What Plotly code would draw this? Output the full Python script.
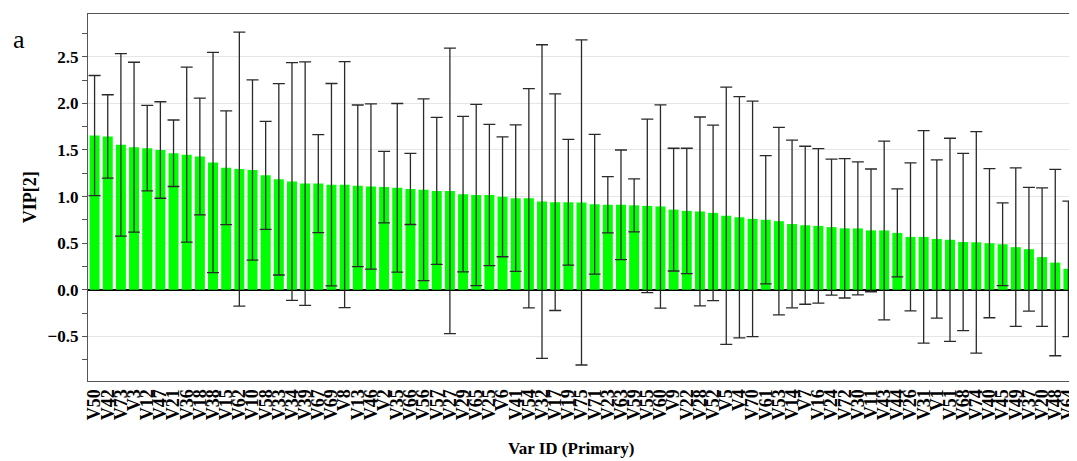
import plotly.graph_objects as go

labels = ["V50", "V42", "V73", "V3", "V12", "V47", "V21", "V36", "V18", "V38",
          "V15", "V62", "V10", "V58", "V33", "V34", "V39", "V67", "V69", "V8",
          "V13", "V46", "V2", "V35", "V66", "V56", "V57", "V27", "V29", "V65",
          "V25", "V6", "V41", "V54", "V32", "V17", "V19", "V75", "V71", "V23",
          "V63", "V59", "V55", "V60", "V9", "V22", "V28", "V52", "V5", "V4",
          "V70", "V61", "V53", "V14", "V7", "V16", "V24", "V72", "V30", "V11",
          "V43", "V44", "V26", "V31", "V1", "V51", "V68", "V74", "V40", "V45",
          "V49", "V37", "V20", "V48", "V64"]

vip = [1.655, 1.645, 1.555, 1.530, 1.520, 1.500, 1.465, 1.450, 1.430, 1.365,
       1.310, 1.295, 1.285, 1.228, 1.185, 1.162, 1.139, 1.139, 1.128, 1.128,
       1.115, 1.108, 1.102, 1.094, 1.082, 1.073, 1.061, 1.061, 1.026, 1.017,
       1.017, 0.997, 0.983, 0.982, 0.946, 0.940, 0.938, 0.937, 0.918, 0.913,
       0.912, 0.906, 0.900, 0.894, 0.860, 0.846, 0.840, 0.825, 0.794, 0.778,
       0.760, 0.751, 0.736, 0.705, 0.692, 0.685, 0.672, 0.659, 0.658, 0.637,
       0.636, 0.610, 0.567, 0.567, 0.545, 0.536, 0.512, 0.509, 0.499, 0.488,
       0.457, 0.435, 0.350, 0.291, 0.224]

err = [0.645, 0.448, 0.980, 0.912, 0.459, 0.518, 0.357, 0.939, 0.627, 1.182,
       0.611, 1.471, 0.967, 0.580, 1.027, 1.277, 1.308, 0.527, 1.086, 1.321,
       0.868, 0.888, 0.384, 0.905, 0.382, 0.975, 0.789, 1.532, 0.834, 0.973,
       0.759, 0.643, 0.786, 1.177, 1.684, 1.163, 0.675, 1.745, 0.750, 0.302,
       0.588, 0.284, 0.932, 1.091, 0.659, 0.673, 1.014, 0.943, 1.380, 1.295,
       1.264, 0.688, 1.007, 0.900, 0.848, 0.830, 0.730, 0.748, 0.714, 0.659,
       0.960, 0.473, 0.795, 1.141, 0.850, 1.090, 0.952, 1.189, 0.800, 0.445,
       0.850, 0.664, 0.743, 1.000, 0.727]

SERIF = "Liberation Serif, Times New Roman, serif"

fig = go.Figure()
fig.add_trace(go.Bar(
    x=labels, y=vip,
    marker=dict(color="#00ff00", line=dict(width=0)),
    error_y=dict(type="data", array=err, visible=True,
                 color="#2a2a2a", thickness=1.3, width=6),
    showlegend=False,
))

# page body has an 8px default margin: size the figure to fit the window
fig.update_layout(
    width=1069, height=453,
    margin=dict(l=80, r=2, t=6, b=80),
    paper_bgcolor="white", plot_bgcolor="white",
    bargap=0.24,
    xaxis=dict(
        type="category",
        tickmode="array", tickvals=labels, ticktext=labels,
        tickangle=-90,
        tickfont=dict(family=SERIF, size=18, color="black", weight="bold"),
        showline=True, linecolor="#555555", linewidth=1.2, mirror=True,
        ticks="", showgrid=False, automargin=False,
    ),
    yaxis=dict(
        range=[-0.98, 2.96],
        tick0=0, dtick=0.5, tickformat=".1f",
        ticks="outside", ticklen=5, tickcolor="#555555",
        minor=dict(dtick=0.25, ticks="outside", ticklen=5, tickcolor="#555555", showgrid=False),
        tickfont=dict(family=SERIF, size=17, color="black", weight="bold"),
        showgrid=True, gridcolor="#e6e6e6", gridwidth=1,
        zeroline=True, zerolinecolor="black", zerolinewidth=1.5,
        showline=True, linecolor="#555555", linewidth=1.2, mirror=True,
        automargin=False,
    ),
    annotations=[
        dict(text="a", xref="paper", yref="paper", x=-0.078, y=0.93,
             xanchor="left", yanchor="middle", showarrow=False,
             font=dict(family=SERIF, size=26, color="black")),
        dict(text="VIP[2]", xref="paper", yref="paper", x=-0.059, y=0.5,
             xanchor="center", yanchor="middle", showarrow=False, textangle=-90,
             font=dict(family=SERIF, size=18, color="black", weight="bold")),
        dict(text="Var ID (Primary)", xref="paper", yref="paper", x=0.49, y=-0.185,
             xanchor="center", yanchor="middle", showarrow=False,
             font=dict(family=SERIF, size=17, color="black", weight="bold")),
    ],
)

fig.write_html("out.html")
